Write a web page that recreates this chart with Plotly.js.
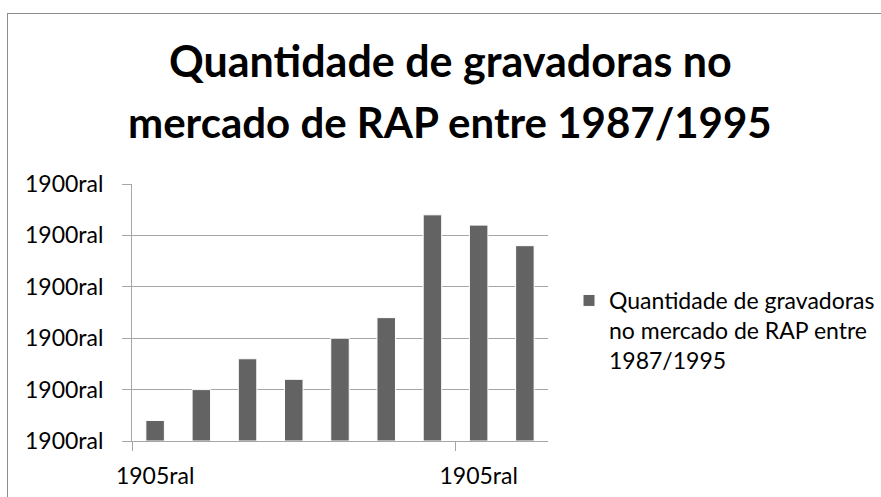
<!DOCTYPE html>
<html><head><meta charset="utf-8">
<script src="https://cdn.plot.ly/plotly-3.0.1.min.js"></script>
<style>
html,body{margin:0;padding:0;background:#fff;overflow:hidden;}
#chart{width:881px;height:497px;}
#frame{position:absolute;left:7px;top:13px;width:900px;height:500px;border-left:1.5px solid #8c8c8c;border-top:1.5px solid #8c8c8c;pointer-events:none;}
</style>
</head><body>
<div id="chart"></div><div id="frame"></div>
<script>
// ---- data ----
const categories = [1, 2, 3, 4, 5, 6, 7, 8, 9];
const values = [2, 5, 8, 6, 10, 12, 22, 21, 19];
const yTickVals = [0, 5, 10, 15, 20, 25];
const yTickText = ["1900ral", "1900ral", "1900ral", "1900ral", "1900ral", "1900ral"];
const xTickVals = [1, 8];
const xTickText = ["1905ral", "1905ral"];
const xTickMarks = [0.5, 7.5];
const seriesName = "Quantidade de gravadoras<br>no mercado de RAP entre<br>1987/1995";
const titleLines = ["Quantidade de gravadoras no", "mercado de RAP entre 1987/1995"];

// ---- geometry helpers (pixel -> paper) ----
const L = 132, R = 548, T = 184, B = 441, W = 881, H = 497;
const px = x => (x - L) / (R - L);
const py = y => (B - y) / (B - T);

const FONT = "Lato, 'Open Sans', sans-serif";
const GRID = "#a6a6a6";
const BAR = "#636363";

const trace = {
  type: "bar",
  x: categories,
  y: values,
  name: seriesName,
  width: 0.4,
  marker: { color: BAR, line: { color: "#ffffff", width: 1 } },
  showlegend: true,
  hoverinfo: "y"
};

const layout = {
  width: W, height: H,
  margin: { l: L, r: W - R, t: T, b: H - B, pad: 0, autoexpand: false },
  paper_bgcolor: "#ffffff",
  plot_bgcolor: "#ffffff",
  font: { family: FONT, size: 23, color: "#000000" },
  showlegend: true,
  xaxis: {
    range: [0.5, 9.5],
    tickmode: "array",
    tickvals: xTickVals,
    ticktext: xTickText,
    ticks: "",
    showgrid: false,
    zeroline: false,
    showline: true,
    linecolor: GRID,
    linewidth: 1,
    automargin: false,
    tickfont: { family: FONT, size: 23, color: "#000" },
    ticklabelstandoff: 14,
    minor: { tickmode: "array", tickvals: xTickMarks, ticks: "outside", ticklen: 9, tickcolor: GRID, tickwidth: 1, showgrid: false },
    fixedrange: true
  },
  yaxis: {
    range: [0, 25],
    tickmode: "array",
    tickvals: yTickVals,
    ticktext: yTickText,
    ticks: "outside",
    ticklen: 9,
    tickcolor: GRID,
    tickwidth: 1,
    showgrid: true,
    gridcolor: GRID,
    gridwidth: 1,
    zeroline: false,
    showline: true,
    linecolor: GRID,
    linewidth: 1,
    automargin: false,
    tickfont: { family: FONT, size: 23, color: "#000" },
    ticklabelstandoff: 14,
    fixedrange: true
  },
  legend: {
    x: px(569), y: py(279), xanchor: "left", yanchor: "top",
    valign: "top",
    font: { family: FONT, size: 23, color: "#000" },
    bgcolor: "rgba(0,0,0,0)",
    borderwidth: 0
  },
  annotations: [
    { text: "<b>" + titleLines[0] + "</b>", xref: "paper", yref: "paper", x: px(450), y: py(61),
      xanchor: "center", yanchor: "middle", showarrow: false, font: { family: FONT, size: 43, color: "#000" } },
    { text: "<b>" + titleLines[1] + "</b>", xref: "paper", yref: "paper", x: px(450), y: py(122),
      xanchor: "center", yanchor: "middle", showarrow: false, font: { family: FONT, size: 42, color: "#000" } }
  ]
};

Plotly.newPlot("chart", [trace], layout, { displayModeBar: false, staticPlot: true });
</script>
</body></html>
